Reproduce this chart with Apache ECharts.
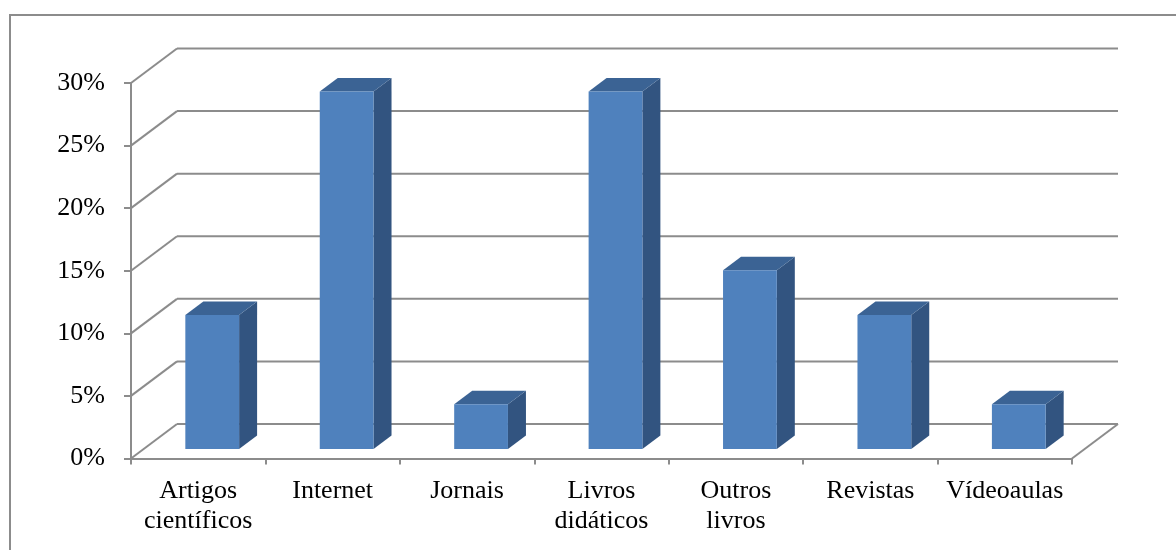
<!DOCTYPE html>
<html>
<head>
<meta charset="utf-8">
<script src="https://cdn.jsdelivr.net/npm/echarts@6/dist/echarts.min.js"></script>
<style>html,body{margin:0;padding:0;background:#fff}#c{width:1176px;height:550px}</style>
</head>
<body>
<div id="c"></div>
<script>
var categories = ['Artigos\ncientíficos', 'Internet', 'Jornais', 'Livros\ndidáticos', 'Outros\nlivros', 'Revistas', 'Vídeoaulas'];
var values = [10.71, 28.57, 3.57, 28.57, 14.29, 10.71, 3.57];
var yTicks = [0, 5, 10, 15, 20, 25, 30];

var DEPTH_DX = 46, DEPTH_DY = -34.5;      // back wall offset
var BAR_DX = 14, BAR_DY = -9.5;           // bar front face offset
var BAR_DDX = 18, BAR_DDY = -13.5;        // bar depth
var GRID_COLOR = '#8c8c8c';
var FONT = 'Liberation Serif';

var chart = echarts.init(document.getElementById('c'));

function gridRender(params, api) {
  var cs = params.coordSys;
  var v = api.value(1);
  var y = api.coord([0, v])[1];
  var x0 = cs.x, x1 = cs.x + cs.width;
  var children = [
    {type: 'line', shape: {x1: x0, y1: y, x2: x0 + DEPTH_DX, y2: y + DEPTH_DY}, style: {stroke: GRID_COLOR, lineWidth: 2}},
    {type: 'line', shape: {x1: x0 + DEPTH_DX, y1: y + DEPTH_DY, x2: x1 + DEPTH_DX, y2: y + DEPTH_DY}, style: {stroke: GRID_COLOR, lineWidth: 2}}
  ];
  if (v === 0) {
    children.push({type: 'line', shape: {x1: x1, y1: y, x2: x1 + DEPTH_DX, y2: y + DEPTH_DY}, style: {stroke: GRID_COLOR, lineWidth: 2}});
  }
  return {type: 'group', children: children};
}

function barRender(params, api) {
  var idx = api.value(0);
  var top = api.coord([idx, api.value(1)]);
  var base = api.coord([idx, 0]);
  var bw = api.size([1, 0])[0] * 0.4;
  var xl = top[0] - bw / 2 + BAR_DX, xr = xl + bw;
  var yt = top[1] + BAR_DY, yb = base[1] + BAR_DY;
  return {
    type: 'group',
    children: [
      {type: 'polygon', shape: {points: [[xr, yt], [xr + BAR_DDX, yt + BAR_DDY], [xr + BAR_DDX, yb + BAR_DDY], [xr, yb]]}, style: {fill: '#325480'}},
      {type: 'polygon', shape: {points: [[xl, yt], [xl + BAR_DDX, yt + BAR_DDY], [xr + BAR_DDX, yt + BAR_DDY], [xr, yt]]}, style: {fill: '#3b6394'}},
      {type: 'rect', shape: {x: xl, y: yt, width: bw, height: yb - yt}, style: {fill: '#4f81bd'}}
    ]
  };
}

chart.setOption({
  animation: false,
  backgroundColor: '#fff',
  graphic: [{type: 'rect', left: 7.5, top: 12.5, shape: {x: 0, y: 0, width: 1200, height: 600}, style: {fill: 'none', stroke: '#8c8c8c', lineWidth: 2}, silent: true}],
  grid: {left: 131, right: 104, top: 83, bottom: 91.5},
  xAxis: {
    type: 'category',
    data: categories,
    axisLine: {lineStyle: {color: GRID_COLOR, width: 2}},
    axisTick: {show: true, length: 6, lineStyle: {color: GRID_COLOR, width: 2}},
    axisLabel: {color: '#000', fontFamily: FONT, fontSize: 26, lineHeight: 30, margin: 18, interval: 0}
  },
  yAxis: {
    type: 'value', min: 0, max: 30, interval: 5,
    axisLine: {show: true, lineStyle: {color: GRID_COLOR, width: 2}},
    axisTick: {show: true, length: 7, lineStyle: {color: GRID_COLOR, width: 2}},
    splitLine: {show: false},
    axisLabel: {color: '#000', fontFamily: FONT, fontSize: 26, margin: 26, formatter: function (v) { return v + '%'; }}
  },
  series: [
    {type: 'custom', renderItem: gridRender, data: yTicks.map(function (v) { return [0, v]; }), z: 1, silent: true},
    {type: 'custom', renderItem: barRender, data: values.map(function (v, i) { return [i, v]; }), z: 3}
  ]
});
</script>
</body>
</html>
